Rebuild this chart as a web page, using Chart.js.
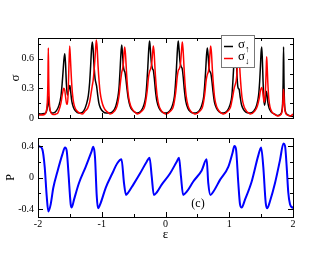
<!DOCTYPE html>
<html>
<head>
<meta charset="utf-8">
<script src="https://cdn.jsdelivr.net/npm/chart.js@4.4.1/dist/chart.umd.min.js"></script>
<style>
  html, body { margin: 0; padding: 0; background: #fff; }
  #wrap { position: relative; width: 332px; height: 257px; }
  canvas { position: absolute; left: 0; }
  #top { top: 0; }
  #bottom { top: 128px; }
</style>
</head>
<body>
<div id="wrap">
  <canvas id="top" width="332" height="128"></canvas>
  <canvas id="bottom" width="332" height="129"></canvas>
</div>
<script>
// ── values ─────────────────────────────────────────
const xTicks = [-2, -1, 0, 1, 2];
const xMinor = [-1.5, -0.5, 0.5, 1.5];
const sigmaTicks = [0, 0.3, 0.6];
const sigmaMinor = [0.15, 0.45, 0.75];
const pTicks = [-0.4, 0, 0.4];
const pMinor = [-0.2, 0.2];

// sigma up (black)
const upEps = [
  -2.0, -1.95, -1.90, -1.87, -1.852, -1.838, -1.824, -1.80, -1.77,
  -1.76, -1.71, -1.67, -1.64, -1.622, -1.607, -1.592, -1.58, -1.568, -1.555, -1.54, -1.525, -1.51, -1.50, -1.488, -1.47, -1.445, -1.41, -1.36,
  -1.33, -1.28, -1.24, -1.21, -1.19, -1.175, -1.16, -1.148, -1.136, -1.12, -1.105, -1.09, -1.08, -1.065, -1.045, -1.02, -0.98, -0.93,
  -0.87, -0.82, -0.78, -0.75, -0.73, -0.714, -0.70, -0.687, -0.675, -0.662, -0.648, -0.635, -0.622, -0.605, -0.585, -0.555, -0.52, -0.47,
  -0.44, -0.38, -0.34, -0.31, -0.292, -0.277, -0.262, -0.25, -0.238, -0.222, -0.205, -0.19, -0.175, -0.158, -0.135, -0.10, -0.06, -0.01,
  0.01, 0.07, 0.11, 0.14, 0.158, 0.173, 0.188, 0.20, 0.212, 0.228, 0.245, 0.262, 0.277, 0.295, 0.318, 0.35, 0.39, 0.44,
  0.47, 0.53, 0.57, 0.60, 0.616, 0.630, 0.644, 0.656, 0.668, 0.683, 0.697, 0.712, 0.727, 0.745, 0.768, 0.80, 0.84, 0.89,
  0.91, 0.97, 1.01, 1.04, 1.056, 1.07, 1.084, 1.095, 1.107, 1.12, 1.132, 1.142, 1.155, 1.17, 1.19, 1.22, 1.26, 1.31,
  1.33, 1.39, 1.43, 1.46, 1.477, 1.49, 1.499, 1.509, 1.519, 1.53, 1.542, 1.553, 1.565, 1.578, 1.59, 1.605, 1.625, 1.66, 1.71,
  1.76, 1.80, 1.825, 1.837, 1.845, 1.852, 1.859, 1.867, 1.88, 1.91, 1.96, 2.0
];
const upSigma = [
  0.045, 0.04, 0.045, 0.06, 0.12, 0.22, 0.12, 0.06, 0.05,
  0.05, 0.075, 0.13, 0.22, 0.34, 0.47, 0.60, 0.65, 0.55, 0.35, 0.23, 0.26, 0.32, 0.33, 0.27, 0.17, 0.11, 0.07, 0.05,
  0.05, 0.075, 0.14, 0.23, 0.36, 0.52, 0.70, 0.77, 0.70, 0.52, 0.40, 0.35, 0.32, 0.24, 0.15, 0.10, 0.065, 0.05,
  0.05, 0.07, 0.12, 0.20, 0.30, 0.47, 0.64, 0.74, 0.66, 0.53, 0.48, 0.46, 0.40, 0.30, 0.20, 0.12, 0.08, 0.055,
  0.05, 0.075, 0.13, 0.22, 0.36, 0.52, 0.70, 0.78, 0.70, 0.56, 0.50, 0.48, 0.40, 0.28, 0.17, 0.10, 0.065, 0.05,
  0.05, 0.075, 0.13, 0.22, 0.36, 0.52, 0.70, 0.78, 0.70, 0.57, 0.52, 0.50, 0.42, 0.29, 0.17, 0.10, 0.065, 0.05,
  0.05, 0.075, 0.13, 0.22, 0.34, 0.48, 0.64, 0.71, 0.64, 0.50, 0.47, 0.45, 0.38, 0.27, 0.16, 0.10, 0.065, 0.05,
  0.05, 0.075, 0.13, 0.22, 0.36, 0.52, 0.70, 0.76, 0.66, 0.45, 0.33, 0.30, 0.29, 0.22, 0.14, 0.09, 0.06, 0.05,
  0.05, 0.075, 0.13, 0.23, 0.37, 0.53, 0.66, 0.72, 0.60, 0.38, 0.20, 0.13, 0.17, 0.27, 0.25, 0.16, 0.10, 0.06, 0.04,
  0.025, 0.035, 0.07, 0.15, 0.36, 0.72, 0.36, 0.15, 0.07, 0.035, 0.02, 0.015
];

// sigma down (red)
const downEps = [
  -2.0, -1.95, -1.90, -1.87, -1.855, -1.845, -1.838, -1.831, -1.821, -1.806, -1.78, -1.74,
  -1.72, -1.69, -1.67, -1.64, -1.615, -1.595, -1.58, -1.565, -1.55, -1.538, -1.527, -1.516, -1.503, -1.491, -1.476, -1.46, -1.44, -1.41, -1.37, -1.33,
  -1.31, -1.26, -1.22, -1.19, -1.165, -1.148, -1.135, -1.12, -1.10, -1.085, -1.073, -1.057, -1.04, -1.025, -1.0, -0.97, -0.93, -0.89,
  -0.87, -0.80, -0.76, -0.73, -0.705, -0.687, -0.672, -0.66, -0.652, -0.64, -0.628, -0.613, -0.598, -0.58, -0.55, -0.51, -0.46,
  -0.44, -0.37, -0.33, -0.29, -0.265, -0.25, -0.232, -0.217, -0.202, -0.19, -0.178, -0.163, -0.148, -0.13, -0.10, -0.06, -0.01,
  0.01, 0.08, 0.12, 0.16, 0.185, 0.20, 0.218, 0.235, 0.252, 0.264, 0.276, 0.291, 0.306, 0.325, 0.355, 0.395, 0.445,
  0.47, 0.54, 0.58, 0.615, 0.64, 0.656, 0.672, 0.685, 0.697, 0.709, 0.721, 0.736, 0.751, 0.77, 0.80, 0.84, 0.89,
  0.91, 0.98, 1.02, 1.055, 1.08, 1.095, 1.11, 1.12, 1.131, 1.142, 1.154, 1.169, 1.184, 1.20, 1.23, 1.27, 1.32,
  1.33, 1.40, 1.44, 1.47, 1.49, 1.508, 1.522, 1.537, 1.55, 1.563, 1.574, 1.58, 1.587, 1.595, 1.605, 1.62, 1.64, 1.67, 1.72,
  1.76, 1.80, 1.83, 1.842, 1.852, 1.862, 1.875, 1.91, 1.96, 2.0
];
const downSigma = [
  0.03, 0.03, 0.035, 0.07, 0.15, 0.36, 0.71, 0.36, 0.15, 0.07, 0.04, 0.035,
  0.04, 0.05, 0.08, 0.15, 0.25, 0.30, 0.28, 0.20, 0.14, 0.14, 0.25, 0.50, 0.73, 0.60, 0.40, 0.25, 0.15, 0.09, 0.06, 0.045,
  0.04, 0.07, 0.10, 0.16, 0.26, 0.33, 0.38, 0.48, 0.66, 0.79, 0.72, 0.52, 0.36, 0.26, 0.17, 0.11, 0.07, 0.05,
  0.04, 0.07, 0.12, 0.22, 0.37, 0.46, 0.50, 0.56, 0.65, 0.72, 0.65, 0.48, 0.33, 0.22, 0.13, 0.08, 0.05,
  0.04, 0.07, 0.11, 0.26, 0.42, 0.47, 0.50, 0.55, 0.66, 0.73, 0.66, 0.48, 0.34, 0.22, 0.12, 0.07, 0.045,
  0.04, 0.07, 0.11, 0.26, 0.42, 0.48, 0.50, 0.55, 0.69, 0.77, 0.69, 0.51, 0.35, 0.22, 0.12, 0.07, 0.045,
  0.04, 0.07, 0.11, 0.24, 0.39, 0.44, 0.47, 0.53, 0.65, 0.73, 0.66, 0.48, 0.34, 0.21, 0.12, 0.07, 0.045,
  0.04, 0.07, 0.11, 0.22, 0.31, 0.34, 0.38, 0.45, 0.60, 0.72, 0.64, 0.46, 0.32, 0.21, 0.12, 0.07, 0.045,
  0.04, 0.07, 0.12, 0.20, 0.28, 0.31, 0.28, 0.20, 0.16, 0.22, 0.38, 0.50, 0.62, 0.52, 0.36, 0.20, 0.11, 0.06, 0.035,
  0.02, 0.03, 0.07, 0.17, 0.29, 0.17, 0.07, 0.03, 0.02, 0.04
];

// polarization P (blue)
const pEps = [
  -2.0, -1.97, -1.933, -1.895, -1.864, -1.838, -1.801, -1.76, -1.697, -1.619, -1.576, -1.55,
  -1.525, -1.487, -1.471, -1.435, -1.357, -1.252, -1.164, -1.133, -1.106, -1.079, -1.059, -1.016,
  -0.938, -0.835, -0.756, -0.69, -0.651, -0.62, -0.584, -0.505, -0.40, -0.295, -0.25, -0.216,
  -0.183, -0.138, -0.06, 0.071, 0.176, 0.212, 0.243, 0.276, 0.333, 0.436, 0.568, 0.645,
  0.671, 0.705, 0.75, 0.855, 0.985, 1.054, 1.081, 1.106, 1.142, 1.169, 1.195, 1.247,
  1.352, 1.456, 1.50, 1.534, 1.572, 1.597, 1.639, 1.718, 1.796, 1.85, 1.875, 1.901,
  1.926, 1.953, 1.989, 2.0
];
const pVals = [
  0.40, 0.39, 0.36, 0.135, -0.23, -0.43, -0.34, -0.13, 0.07, 0.29, 0.38, 0.34,
  0.09, -0.34, -0.38, -0.28, -0.07, 0.135, 0.32, 0.39, 0.26, -0.23, -0.39, -0.32,
  -0.13, 0.05, 0.18, 0.23, -0.07, -0.22, -0.19, -0.09, 0.05, 0.20, 0.25, 0.01,
  -0.22, -0.19, -0.09, 0.05, 0.20, 0.25, 0.01, -0.22, -0.18, -0.05, 0.09, 0.23,
  -0.07, -0.22, -0.18, -0.03, 0.135, 0.32, 0.40, 0.36, -0.07, -0.34, -0.38, -0.28,
  -0.05, 0.28, 0.38, 0.135, -0.32, -0.39, -0.30, -0.07, 0.22, 0.43, 0.40, 0.135,
  -0.19, -0.34, -0.38, -0.39
];

const SERIF = "'Liberation Serif', 'DejaVu Serif', serif";
Chart.defaults.font.family = SERIF;
Chart.defaults.color = '#000';

const pts = (xs, ys) => xs.map((x, i) => ({ x, y: ys[i] }));

// box round the plot area, ticks pointing inwards on all four sides
function framePlugin(yMajor, yMinor) {
  return {
    id: 'frame',
    afterDraw(chart) {
      const { ctx, chartArea: a, scales: { x, y } } = chart;
      ctx.save();
      ctx.strokeStyle = '#000';
      ctx.lineWidth = 1;
      ctx.strokeRect(a.left + 0.5, a.top + 0.5, a.right - a.left, a.bottom - a.top);
      ctx.beginPath();
      const xMark = (v, len) => {
        const px = Math.round(x.getPixelForValue(v)) + 0.5;
        ctx.moveTo(px, a.bottom); ctx.lineTo(px, a.bottom - len);
        ctx.moveTo(px, a.top); ctx.lineTo(px, a.top + len);
      };
      const yMark = (v, len) => {
        const py = Math.round(y.getPixelForValue(v)) + 0.5;
        ctx.moveTo(a.left, py); ctx.lineTo(a.left + len, py);
        ctx.moveTo(a.right, py); ctx.lineTo(a.right - len, py);
      };
      xTicks.forEach(v => xMark(v, 5));
      xMinor.forEach(v => xMark(v, 3));
      yMajor.forEach(v => yMark(v, 5));
      yMinor.forEach(v => yMark(v, 3));
      ctx.stroke();
      ctx.restore();
    }
  };
}

const legendPlugin = {
  id: 'sigmaLegend',
  afterDraw(chart) {
    const ctx = chart.ctx;
    ctx.save();
    ctx.fillStyle = '#fff';
    ctx.fillRect(221, 35, 33, 32);
    ctx.strokeStyle = '#777';
    ctx.lineWidth = 1;
    ctx.strokeRect(221.5, 35.5, 33, 32);
    const rows = [
      { color: '#000', y: 46.5, arrow: '\u2191' },
      { color: '#ff0000', y: 58.5, arrow: '\u2193' }
    ];
    rows.forEach(r => {
      ctx.strokeStyle = r.color;
      ctx.lineWidth = 1.5;
      ctx.beginPath();
      ctx.moveTo(224, r.y); ctx.lineTo(233, r.y);
      ctx.stroke();
      ctx.fillStyle = '#000';
      ctx.textBaseline = 'middle';
      ctx.font = '13px ' + SERIF;
      ctx.fillText('\u03c3', 238, r.y - 1.5);
      ctx.font = '9px ' + SERIF;
      ctx.fillText(r.arrow, 245, r.y + 3.5);
    });
    ctx.restore();
  }
};

const labelPlugin = {
  id: 'panelLabel',
  afterDraw(chart) {
    const { ctx, scales: { x, y } } = chart;
    ctx.save();
    ctx.fillStyle = '#000';
    ctx.font = '12px ' + SERIF;
    ctx.textAlign = 'center';
    ctx.textBaseline = 'middle';
    ctx.fillText('(c)', x.getPixelForValue(0.51), y.getPixelForValue(-0.33));
    ctx.restore();
  }
};

const line = (label, xs, ys, color, width, order) => ({
  label,
  data: pts(xs, ys),
  borderColor: color,
  borderWidth: width,
  pointRadius: 0,
  fill: false,
  cubicInterpolationMode: 'monotone',
  order
});

const xAxis = (showLabels, height) => ({
  type: 'linear',
  min: -2,
  max: 2,
  afterBuildTicks: s => { s.ticks = xTicks.map(v => ({ value: v })); },
  grid: { display: false, drawTicks: false },
  border: { display: false },
  ticks: { display: showLabels, padding: 1, font: { size: 10 }, callback: v => String(v) },
  title: { display: showLabels, text: '\u03b5', font: { size: 13 }, padding: { top: 0, bottom: 15 } },
  afterFit: s => { s.height = height; }
});

const yAxis = (min, max, ticks, title, titleSize, titlePad) => ({
  min,
  max,
  afterBuildTicks: s => { s.ticks = ticks.map(v => ({ value: v })); },
  grid: { display: false, drawTicks: false },
  border: { display: false },
  ticks: { padding: 4, font: { size: 10 }, callback: v => String(v) },
  title: { display: true, text: title, font: { size: titleSize }, padding: { top: titlePad, bottom: 0 } },
  afterFit: s => { s.width = 38; }
});

const common = {
  responsive: false,
  devicePixelRatio: 1,
  animation: false,
  events: [],
  plugins: { legend: { display: false }, tooltip: { enabled: false } }
};

new Chart(document.getElementById('top'), {
  type: 'line',
  data: {
    datasets: [
      line('\u03c3\u2191', upEps, upSigma, '#000000', 1.5, 1),
      line('\u03c3\u2193', downEps, downSigma, '#ff0000', 1.5, 0)
    ]
  },
  options: {
    ...common,
    layout: { padding: { top: 38, right: 39, left: 0, bottom: 0 } },
    scales: {
      x: xAxis(false, 9),
      y: yAxis(0, 0.81, sigmaTicks, '\u03c3', 13, 8)
    }
  },
  plugins: [framePlugin(sigmaTicks, sigmaMinor), legendPlugin]
});

new Chart(document.getElementById('bottom'), {
  type: 'line',
  data: {
    datasets: [line('P', pEps, pVals, '#0000ff', 2, 0)]
  },
  options: {
    ...common,
    layout: { padding: { top: 9, right: 39, left: 0, bottom: 0 } },
    scales: {
      x: xAxis(true, 40),
      y: yAxis(-0.5, 0.5, pTicks, 'P', 12, 4)
    }
  },
  plugins: [framePlugin(pTicks, pMinor), labelPlugin]
});
</script>
</body>
</html>
